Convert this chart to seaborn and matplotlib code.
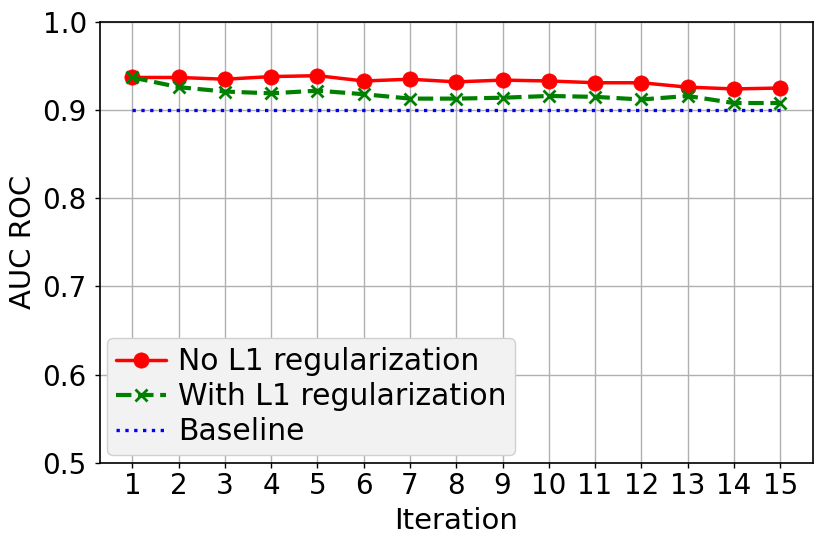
"""Recreate the AUC ROC per iteration chart."""

import matplotlib

matplotlib.use("Agg")
import matplotlib.pyplot as plt
import pandas as pd
import seaborn as sns

ITERATIONS = list(range(1, 16))
NO_L1 = [0.937, 0.937, 0.935, 0.938, 0.939, 0.933, 0.935, 0.932, 0.934,
         0.933, 0.931, 0.931, 0.926, 0.924, 0.925]
WITH_L1 = [0.937, 0.926, 0.921, 0.919, 0.922, 0.918, 0.913, 0.913, 0.914,
           0.916, 0.915, 0.912, 0.916, 0.908, 0.908]
BASELINE = [0.9] * 15


def main():
    sns.set_style("ticks")
    plt.rcParams["font.family"] = ["DejaVu Sans"]
    plt.rcParams["text.color"] = "black"
    plt.rcParams["axes.labelcolor"] = "black"
    plt.rcParams["xtick.color"] = "black"
    plt.rcParams["ytick.color"] = "black"

    df = pd.DataFrame({
        "iteration": ITERATIONS,
        "no_l1": NO_L1,
        "with_l1": WITH_L1,
        "baseline": BASELINE,
    })

    fig, ax = plt.subplots(figsize=(8.3, 5.48), dpi=100)
    sns.lineplot(data=df, x="iteration", y="no_l1", ax=ax, color="red",
                 marker="o", markersize=11, markeredgecolor="red",
                 markeredgewidth=0.5, linewidth=2.5,
                 label="No L1 regularization")
    sns.lineplot(data=df, x="iteration", y="with_l1", ax=ax, color="green",
                 marker="x", markersize=9, markeredgecolor="green",
                 markeredgewidth=2, linewidth=3, linestyle="--",
                 label="With L1 regularization")
    sns.lineplot(data=df, x="iteration", y="baseline", ax=ax, color="blue",
                 linewidth=2.4, linestyle=":", label="Baseline")

    ax.set_ylim(0.5, 1.0)
    ax.set_xlim(0.3, 15.7)
    ax.set_xticks(ITERATIONS)
    ax.set_yticks([0.5, 0.6, 0.7, 0.8, 0.9, 1.0])
    ax.tick_params(labelsize=20, length=3.5, width=1, color="black")
    ax.tick_params(axis="y", pad=6)
    ax.tick_params(axis="x", pad=3.5)
    ax.grid(True, color="#b0b0b0", linewidth=1)
    ax.set_axisbelow(True)
    for spine in ax.spines.values():
        spine.set_color("black")
        spine.set_linewidth(1.2)
    ax.set_xlabel("Iteration", fontsize=21, labelpad=4.5)
    ax.set_ylabel("AUC ROC", fontsize=21, labelpad=4)
    leg = ax.legend(loc="lower left", fontsize=21.5, frameon=True,
                    facecolor="#f2f2f2", edgecolor="#d0d0d0", framealpha=1,
                    handlelength=1.65, borderpad=0.3, labelspacing=0.2,
                    handletextpad=0.4, borderaxespad=0.25)
    leg.get_frame().set_linewidth(1)

    fig.subplots_adjust(left=0.1205, right=0.979, top=0.96, bottom=0.1557)
    fig.savefig("out.png", dpi=100)


if __name__ == "__main__":
    main()
